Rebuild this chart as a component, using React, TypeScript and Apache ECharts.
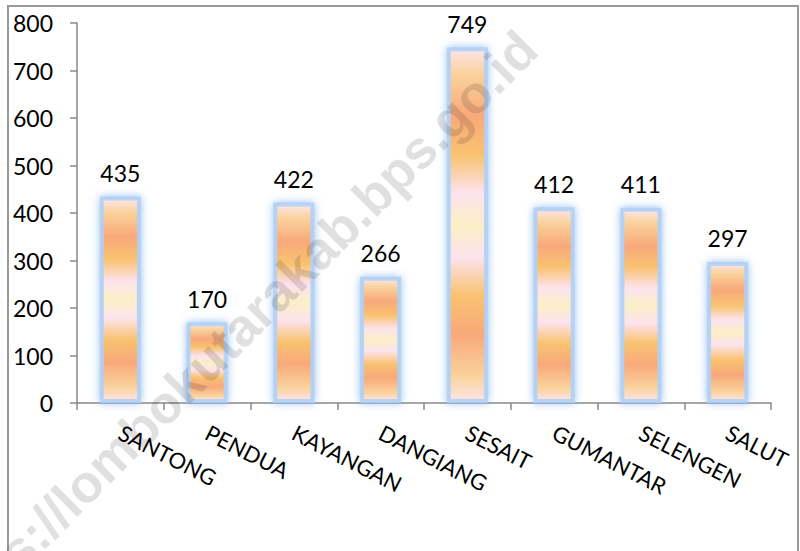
import React, { useEffect, useRef } from 'react';
import * as echarts from 'echarts';

const categories = ['SANTONG', 'PENDUA', 'KAYANGAN', 'DANGIANG', 'SESAIT', 'GUMANTAR', 'SELENGEN', 'SALUT'];
const values = [435, 170, 422, 266, 749, 412, 411, 297];
const yMin = 0;
const yMax = 800;
const yStep = 100;
const watermarkText = 'https://lombokutarakab.bps.go.id';

const FONT = 'Lato, "Open Sans", sans-serif';

const barFill = {
  type: 'linear',
  x: 0,
  y: 0,
  x2: 0,
  y2: 1,
  colorStops: [
    { offset: 0, color: '#fde5e8' },
    { offset: 0.07, color: '#fad29c' },
    { offset: 0.19, color: '#f8a97a' },
    { offset: 0.3, color: '#f9c270' },
    { offset: 0.41, color: '#fde3ee' },
    { offset: 0.5, color: '#fbefc6' },
    { offset: 0.59, color: '#fde3ee' },
    { offset: 0.7, color: '#f9c270' },
    { offset: 0.81, color: '#f8a97a' },
    { offset: 0.93, color: '#fad29c' },
    { offset: 1, color: '#fde5e8' },
  ],
};

export default function App() {
  const ref = useRef<HTMLDivElement>(null);

  useEffect(() => {
    if (!ref.current) return;
    const chart = echarts.init(ref.current, undefined, { renderer: 'svg' });
    chart.setOption({
      animation: false,
      backgroundColor: '#ffffff',
      grid: { left: 77, right: 29, top: 23, bottom: 148, containLabel: false },
      xAxis: {
        type: 'category',
        data: categories,
        axisLine: { show: true, lineStyle: { color: '#888888', width: 1.5 } },
        axisTick: { show: true, length: 7, lineStyle: { color: '#888888', width: 1.5 } },
        axisLabel: {
          rotate: -27,
          margin: 28,
          color: '#000000',
          fontSize: 22,
          fontFamily: FONT,
          interval: 0,
        },
      },
      yAxis: {
        type: 'value',
        min: yMin,
        max: yMax,
        interval: yStep,
        axisLine: { show: true, lineStyle: { color: '#888888', width: 1.5 } },
        axisTick: { show: true, length: 7, lineStyle: { color: '#888888', width: 1.5 } },
        splitLine: { show: false },
        axisLabel: { margin: 24, color: '#000000', fontSize: 23, fontFamily: FONT },
      },
      series: [
        {
          type: 'bar',
          data: values,
          barWidth: 41,
          itemStyle: {
            color: barFill,
            borderColor: 'rgba(175,208,246,0.85)',
            borderWidth: 4,
            shadowBlur: 8,
            shadowColor: 'rgba(130,178,240,0.9)',
          },
          label: {
            show: true,
            position: 'top',
            distance: 12,
            color: '#000000',
            fontSize: 23,
            fontFamily: FONT,
          },
        },
      ],
      graphic: [
        {
          type: 'rect',
          shape: { x: 8, y: 6, width: 790, height: 600 },
          style: { fill: 'none', stroke: '#9a9a9a', lineWidth: 2 },
          z: 1,
          silent: true,
        },
        {
          type: 'text',
          x: 528,
          y: 40,
          rotation: Math.PI / 4,
          z: 100,
          silent: true,
          style: {
            text: watermarkText,
            fill: 'rgba(0,0,0,0.12)',
            font: 'bold 53px "Liberation Sans", Arial, sans-serif',
            textAlign: 'right',
            textVerticalAlign: 'middle',
          },
        },
      ],
    });
    return () => chart.dispose();
  }, []);

  return (
    <div
      ref={ref}
      style={{ position: 'fixed', left: 0, top: 0, width: 800, height: 551, background: '#fff' }}
    />
  );
}
